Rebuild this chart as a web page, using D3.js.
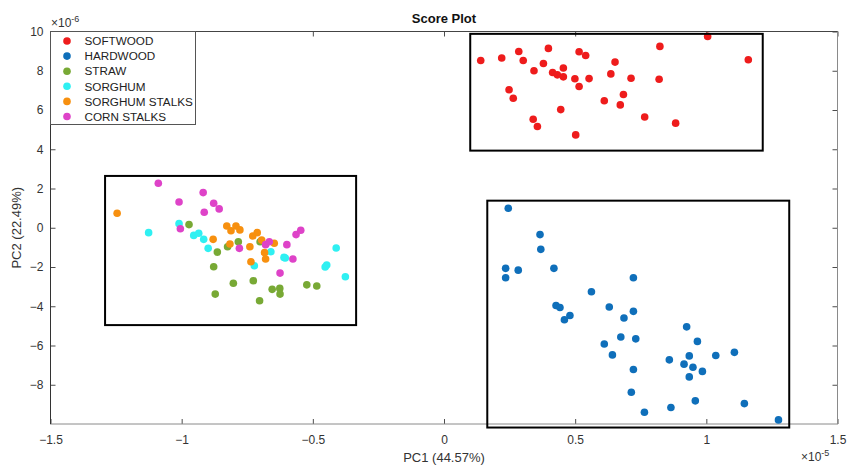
<!DOCTYPE html>
<html>
<head>
<meta charset="utf-8">
<script src="https://cdn.jsdelivr.net/npm/d3@7"></script>
<style>
  body { margin: 0; background: #fff; }
  text { font-family: Arial, "Liberation Sans", Helvetica, sans-serif; }
</style>
</head>
<body>
<div id="chart"></div>
<script>
// PC scores, x in units of 1e-5, y in units of 1e-6
const softwood = [
  [0.140, 8.52], [0.220, 8.65], [0.285, 8.98], [0.302, 8.52], [0.398, 9.14], [0.343, 8.00],
  [0.379, 8.37], [0.414, 7.91], [0.432, 7.79], [0.455, 8.14], [0.455, 7.69], [0.515, 8.97],
  [0.540, 8.78], [0.499, 7.59], [0.553, 7.60], [0.515, 7.20], [0.652, 8.44], [0.636, 7.84],
  [0.713, 7.62], [0.823, 9.24], [0.820, 7.57], [1.005, 9.75], [1.160, 8.56], [0.248, 7.03],
  [0.264, 6.60], [0.445, 6.02], [0.611, 6.47], [0.684, 6.79], [0.672, 6.26], [0.340, 5.53],
  [0.356, 5.16], [0.502, 4.73], [0.765, 5.64], [0.883, 5.33]
];
const hardwood = [
  [0.245, 0.99], [0.366, -0.35], [0.369, -1.10], [0.235, -2.07], [0.235, -2.55], [0.283, -2.16],
  [0.419, -2.07], [0.722, -2.55], [0.562, -3.26], [0.427, -3.96], [0.442, -4.06], [0.480, -4.47],
  [0.459, -4.69], [0.630, -4.04], [0.722, -4.26], [0.686, -4.60], [0.674, -5.57], [0.731, -5.66],
  [0.611, -5.92], [0.642, -6.48], [0.722, -7.22], [0.714, -8.38], [0.764, -9.40], [0.865, -9.16],
  [0.925, -5.05], [0.966, -5.79], [0.935, -6.53], [1.036, -6.51], [1.107, -6.35], [0.859, -6.73],
  [0.915, -6.95], [0.949, -7.11], [0.985, -7.32], [0.935, -7.60], [0.958, -8.82], [1.145, -8.96],
  [1.275, -9.79]
];
const straw = [
  [-0.972, 0.16], [-0.864, -1.24], [-0.825, -0.97], [-0.784, -0.71], [-0.701, -0.71], [-0.878, -1.99],
  [-0.803, -2.83], [-0.727, -2.70], [-0.872, -3.38], [-0.655, -3.14], [-0.626, -3.09], [-0.625, -3.38],
  [-0.703, -3.72], [-0.523, -2.91], [-0.485, -2.97]
];
const sorghum = [
  [-1.126, -0.25], [-1.010, 0.21], [-0.954, -0.39], [-0.935, -0.28], [-0.916, -0.59], [-0.899, -1.05],
  [-0.660, -1.22], [-0.723, -1.94], [-0.610, -1.51], [-0.605, -1.54], [-0.411, -1.03], [-0.447, -1.90],
  [-0.453, -2.00], [-0.376, -2.50]
];
const sorghumStalks = [
  [-1.246, 0.74], [-0.828, 0.09], [-0.812, -0.15], [-0.793, 0.09], [-0.778, -0.11], [-0.880, -0.59],
  [-0.816, -0.83], [-0.729, -0.42], [-0.712, -0.25], [-0.695, -0.63], [-0.647, -0.79], [-0.740, -0.97],
  [-0.684, -1.27], [-0.680, -1.59], [-0.736, -1.73]
];
const cornStalks = [
  [-1.089, 2.27], [-0.918, 1.79], [-1.010, 1.31], [-0.878, 1.25], [-0.857, 0.96], [-0.914, 0.79],
  [-1.005, -0.05], [-0.780, -1.05], [-0.680, -0.86], [-0.666, -0.71], [-0.599, -0.86], [-0.564, -0.35],
  [-0.546, -0.13], [-0.576, -1.59], [-0.625, -2.31]
];

const groupNames = ['SOFTWOOD', 'HARDWOOD', 'STRAW', 'SORGHUM', 'SORGHUM STALKS', 'CORN STALKS'];
const groupData = [softwood, hardwood, straw, sorghum, sorghumStalks, cornStalks];
const groupColors = ['#ee1c1c', '#0f6fba', '#78a935', '#2ff0f2', '#f7900f', '#de43c8'];

// cluster boxes [x0, x1, y0, y1]
const boxes = [
  [0.1, 1.215, 3.93, 9.88],
  [-1.292, -0.335, -4.96, 2.64],
  [0.165, 1.316, -10.18, 1.38]
];

const xTicks = [-1.5, -1, -0.5, 0, 0.5, 1, 1.5];
const yTicks = [-8, -6, -4, -2, 0, 2, 4, 6, 8, 10];

const W = 848, H = 465;
const margin = { left: 50.5, right: 10.5, top: 31.5, bottom: 41 };

const svg = d3.select('#chart').append('svg')
  .attr('width', W).attr('height', H);

const x = d3.scaleLinear().domain([-1.5, 1.5]).range([margin.left, W - margin.right]);
const y = d3.scaleLinear().domain([-10, 10]).range([H - margin.bottom, margin.top]);

const axisColor = '#4d4d4d';

// axes with inward ticks
const gx = svg.append('g')
  .attr('transform', `translate(0,${y(-10)})`)
  .call(d3.axisBottom(x).tickValues(xTicks).tickSize(-5).tickPadding(11).tickFormat(d3.format('')));
const gxTop = svg.append('g')
  .attr('transform', `translate(0,${y(10)})`)
  .call(d3.axisTop(x).tickValues(xTicks).tickSize(-5).tickFormat(''));
const gy = svg.append('g')
  .attr('transform', `translate(${x(-1.5)},0)`)
  .call(d3.axisLeft(y).tickValues(yTicks).tickSize(-5).tickPadding(7).tickFormat(d3.format('')));
const gyRight = svg.append('g')
  .attr('transform', `translate(${x(1.5)},0)`)
  .call(d3.axisRight(y).tickValues(yTicks).tickSize(-5).tickFormat(''));

[gx, gxTop, gy, gyRight].forEach(g => {
  g.select('.domain').remove();
  g.selectAll('.tick line').attr('stroke', axisColor);
  g.selectAll('.tick text').attr('fill', '#333').style('font-size', '12px');
});

// box around the plot area
svg.append('rect')
  .attr('x', x(-1.5)).attr('y', y(10))
  .attr('width', x(1.5) - x(-1.5)).attr('height', y(-10) - y(10))
  .attr('fill', 'none').attr('stroke', '#8a8a8a').attr('stroke-width', 1);
svg.append('line')
  .attr('x1', x(-1.5)).attr('x2', x(-1.5)).attr('y1', y(10)).attr('y2', y(-10))
  .attr('stroke', '#333');
svg.append('line')
  .attr('x1', x(-1.5)).attr('x2', x(1.5)).attr('y1', y(10)).attr('y2', y(10))
  .attr('stroke', '#444');

// points
groupData.forEach((pts, i) => {
  svg.append('g').selectAll('circle')
    .data(pts)
    .enter()
    .append('circle')
    .attr('cx', d => x(d[0]))
    .attr('cy', d => y(d[1]))
    .attr('r', 3.8)
    .attr('fill', groupColors[i]);
});

// cluster rectangles
svg.append('g').selectAll('rect')
  .data(boxes)
  .enter()
  .append('rect')
  .attr('x', d => x(d[0]))
  .attr('y', d => y(d[3]))
  .attr('width', d => x(d[1]) - x(d[0]))
  .attr('height', d => y(d[2]) - y(d[3]))
  .attr('fill', 'none')
  .attr('stroke', '#000')
  .attr('stroke-width', 2);

// legend
const legend = svg.append('g').attr('transform', `translate(${x(-1.5)},${y(10)})`);
legend.append('rect')
  .attr('x', 0).attr('y', 0).attr('width', 145).attr('height', 93)
  .attr('fill', '#fff').attr('stroke', '#555').attr('stroke-width', 1);
groupNames.forEach((name, i) => {
  const ly = 9.5 + i * 15.1;
  legend.append('circle')
    .attr('cx', 16.5).attr('cy', ly).attr('r', 3.8).attr('fill', groupColors[i]);
  legend.append('text')
    .attr('x', 34).attr('y', ly).attr('dy', '0.36em')
    .style('font-size', '11.7px').attr('fill', '#222')
    .text(name);
});

// title and labels
svg.append('text')
  .attr('x', x(0)).attr('y', 23)
  .attr('text-anchor', 'middle')
  .style('font-size', '13px').style('font-weight', 'bold').attr('fill', '#111')
  .text('Score Plot');

svg.append('text')
  .attr('x', x(0)).attr('y', 462)
  .attr('text-anchor', 'middle')
  .style('font-size', '13px').attr('fill', '#333')
  .text('PC1 (44.57%)');

svg.append('text')
  .attr('transform', `translate(21,${y(0)}) rotate(-90)`)
  .attr('text-anchor', 'middle')
  .style('font-size', '13px').attr('fill', '#333')
  .text('PC2 (22.49%)');

// exponent labels
const expY = svg.append('text')
  .attr('x', 51).attr('y', 27)
  .style('font-size', '12px').attr('fill', '#333');
expY.append('tspan').text('\u00d710');
expY.append('tspan').attr('dy', -5).style('font-size', '9px').text('-6');

const expX = svg.append('text')
  .attr('x', 801).attr('y', 461)
  .style('font-size', '12px').attr('fill', '#333');
expX.append('tspan').text('\u00d710');
expX.append('tspan').attr('dy', -5).style('font-size', '9px').text('-5');
</script>
</body>
</html>
